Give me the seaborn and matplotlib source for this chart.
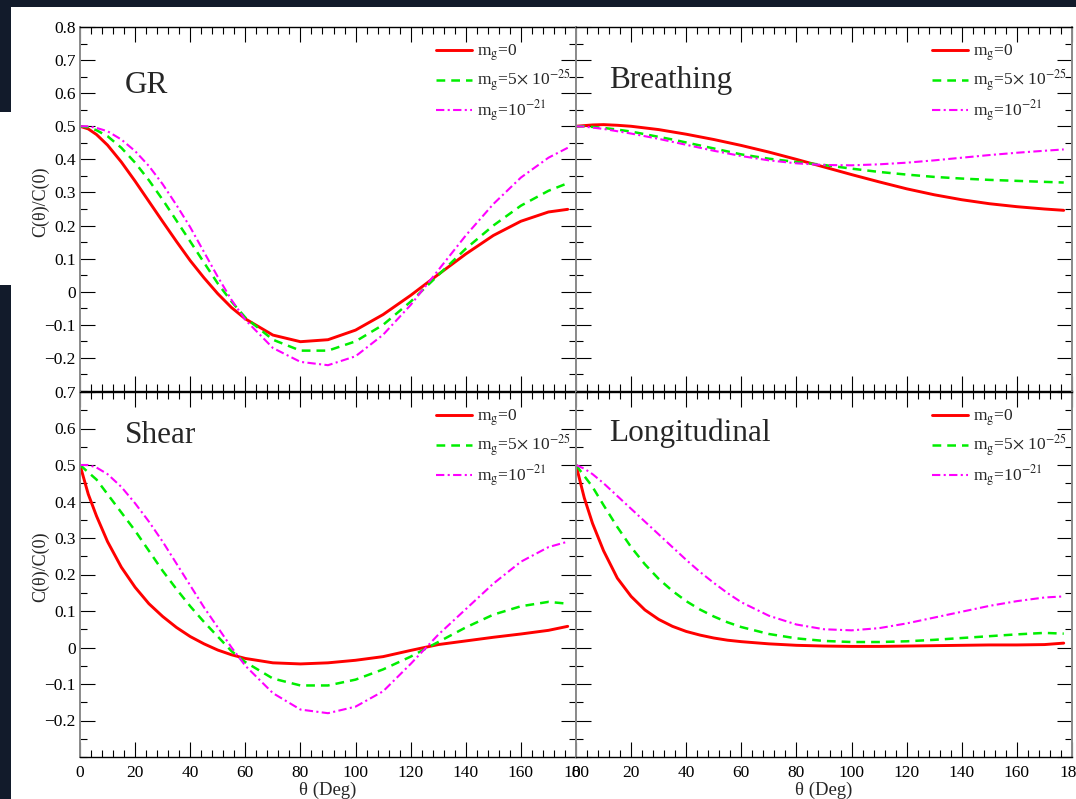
import numpy as np
import pandas as pd
import matplotlib
matplotlib.use("Agg")
import matplotlib.pyplot as plt
from matplotlib.patches import Rectangle
from matplotlib.ticker import MultipleLocator
import seaborn as sns

# ---- data: normalised overlap reduction functions C(theta)/C(0) ----
theta = [0, 3, 6, 10, 15, 20, 25, 30, 35, 40, 45, 50, 55, 60,
         70, 80, 90, 100, 110, 120, 130, 140, 150, 160, 170, 177]

mass_labels = [r"m$_{\rm g}$=0",
               r"m$_{\rm g}$=5$\times$ 10$^{-25}$",
               r"m$_{\rm g}$=10$^{-21}$"]

gr_m0 = [0.500, 0.492, 0.475, 0.443, 0.392, 0.334, 0.273, 0.212, 0.152, 0.094, 0.042, -0.006, -0.048, -0.082,
         -0.131, -0.151, -0.145, -0.116, -0.069, -0.011, 0.052, 0.114, 0.170, 0.213, 0.241, 0.249]
gr_m25 = [0.500, 0.497, 0.488, 0.470, 0.435, 0.390, 0.337, 0.278, 0.215, 0.152, 0.088, 0.025, -0.030, -0.078,
          -0.145, -0.178, -0.178, -0.150, -0.100, -0.030, 0.050, 0.130, 0.200, 0.260, 0.305, 0.328]
gr_m21 = [0.500, 0.500, 0.495, 0.485, 0.460, 0.425, 0.380, 0.325, 0.262, 0.195, 0.120, 0.045, -0.025, -0.085,
          -0.170, -0.212, -0.222, -0.195, -0.130, -0.040, 0.065, 0.170, 0.265, 0.345, 0.405, 0.435]

br_m0 = [0.500, 0.502, 0.504, 0.505, 0.503, 0.500, 0.495, 0.490, 0.483, 0.476, 0.468, 0.460, 0.451, 0.442,
         0.422, 0.400, 0.377, 0.354, 0.332, 0.311, 0.293, 0.278, 0.266, 0.257, 0.250, 0.246]
br_m25 = [0.500, 0.500, 0.498, 0.495, 0.490, 0.484, 0.476, 0.468, 0.460, 0.451, 0.442, 0.433, 0.424, 0.415,
          0.402, 0.392, 0.383, 0.372, 0.362, 0.354, 0.347, 0.342, 0.338, 0.335, 0.332, 0.330]
br_m21 = [0.500, 0.499, 0.496, 0.492, 0.485, 0.478, 0.470, 0.462, 0.453, 0.444, 0.435, 0.426, 0.418, 0.410,
          0.397, 0.388, 0.383, 0.382, 0.385, 0.390, 0.397, 0.405, 0.413, 0.420, 0.426, 0.430]

sh_m0 = [0.500, 0.420, 0.360, 0.290, 0.220, 0.165, 0.120, 0.085, 0.055, 0.030, 0.010, -0.007, -0.020, -0.030,
         -0.042, -0.045, -0.042, -0.035, -0.025, -0.008, 0.008, 0.018, 0.028, 0.037, 0.047, 0.058]
sh_m25 = [0.500, 0.480, 0.460, 0.420, 0.370, 0.320, 0.265, 0.210, 0.160, 0.113, 0.070, 0.030, -0.010, -0.040,
          -0.085, -0.104, -0.104, -0.088, -0.060, -0.025, 0.015, 0.055, 0.090, 0.113, 0.125, 0.120]
sh_m21 = [0.500, 0.500, 0.493, 0.475, 0.440, 0.395, 0.345, 0.290, 0.230, 0.170, 0.110, 0.055, 0.000, -0.050,
          -0.125, -0.170, -0.180, -0.162, -0.120, -0.045, 0.035, 0.105, 0.175, 0.235, 0.275, 0.290]

lo_m0 = [0.500, 0.410, 0.340, 0.265, 0.190, 0.140, 0.103, 0.077, 0.058, 0.044, 0.034, 0.026, 0.020, 0.016,
         0.010, 0.006, 0.004, 0.003, 0.003, 0.004, 0.005, 0.006, 0.007, 0.007, 0.008, 0.012]
lo_m25 = [0.500, 0.470, 0.440, 0.390, 0.330, 0.275, 0.228, 0.188, 0.155, 0.127, 0.104, 0.085, 0.069, 0.056,
          0.037, 0.025, 0.018, 0.015, 0.015, 0.017, 0.021, 0.026, 0.031, 0.036, 0.040, 0.038]
lo_m21 = [0.500, 0.490, 0.475, 0.450, 0.415, 0.380, 0.345, 0.310, 0.275, 0.240, 0.207, 0.177, 0.149, 0.124,
          0.087, 0.063, 0.050, 0.047, 0.053, 0.066, 0.082, 0.098, 0.114, 0.127, 0.137, 0.140]

panel_names = ["GR", "Breathing", "Shear", "Longitudinal"]
panel_series = [(gr_m0, gr_m25, gr_m21), (br_m0, br_m25, br_m21),
                (sh_m0, sh_m25, sh_m21), (lo_m0, lo_m25, lo_m21)]

# ---- styling ----
sns.set_theme(style="white")
plt.rcParams["font.family"] = ["Liberation Serif", "DejaVu Serif"]
plt.rcParams["mathtext.fontset"] = "stix"
plt.rcParams["axes.unicode_minus"] = True

colors = ["#ff0000", "#00ee00", "#ff00ff"]
widths = [2.1, 1.8, 1.5]
dashes = [None, (3.5, 2.4), (4.0, 1.6, 1.0, 1.6)]

W, H = 1076, 799
fig = plt.figure(figsize=(W / 100, H / 100), dpi=100, facecolor="white")

# dark backdrop showing around the white sheet
dark = "#121b2b"
for (x0, y0, w, h) in [(0, 0, W, 7), (0, 0, 11, 112), (0, 285, 11, H - 285)]:
    fig.patches.append(Rectangle((x0 / W, 1 - (y0 + h) / H), w / W, h / H,
                                 transform=fig.transFigure, facecolor=dark,
                                 edgecolor="none", zorder=-10))

left_px, mid_px, right_px = 80, 576, 1072
rows = [(27, 391, -0.3, 0.8), (392, 757, -0.3, 0.7)]

title_pos = [(0.091, 0.820), (0.067, 0.832), (0.091, 0.860), (0.067, 0.866)]

axes = []
for r, (top, bot, ylo, yhi) in enumerate(rows):
    for c in range(2):
        x0 = left_px if c == 0 else mid_px
        x1 = mid_px if c == 0 else right_px
        ax = fig.add_axes([x0 / W, 1 - bot / H, (x1 - x0) / W, (bot - top) / H])
        idx = r * 2 + c
        series = panel_series[idx]
        for k in range(3):
            sns.lineplot(x=theta, y=series[k], ax=ax, color=colors[k],
                         linewidth=widths[k], label=mass_labels[k],
                         errorbar=None, sort=False)
            ln = ax.get_lines()[-1]
            if dashes[k] is not None:
                ln.set_dashes(dashes[k])
        ax.set_xlim(0, 180)
        ax.set_ylim(ylo, yhi)
        ax.xaxis.set_major_locator(MultipleLocator(20))
        ax.xaxis.set_minor_locator(MultipleLocator(4))
        ax.yaxis.set_major_locator(MultipleLocator(0.1))
        ax.yaxis.set_minor_locator(MultipleLocator(0.05))
        ax.tick_params(which="both", direction="in", top=True, right=True,
                       bottom=True, left=True, colors="black",
                       labelsize=12.5)
        ax.tick_params(axis="y", pad=3)
        ax.tick_params(axis="x", pad=6)
        ax.tick_params(which="major", length=11, width=0.8)
        ax.tick_params(which="minor", length=5, width=0.8)
        ax.set_facecolor("white")
        for s in ("left", "right"):
            ax.spines[s].set_color("#8a8a8a")
            ax.spines[s].set_linewidth(1.4)
        for s in ("top", "bottom"):
            ax.spines[s].set_color("black")
            ax.spines[s].set_linewidth(1.0)
        if c == 0:
            yt = [v for v in np.round(np.arange(-0.2, yhi + 0.001, 0.1), 1)]
            ax.set_yticks(yt)
            ax.set_yticklabels(["0" if abs(v) < 1e-9 else f"{v:g}".replace("-", "\u2212") for v in yt])
            ax.set_ylabel("C(\u03b8)/C(0)", fontsize=13)
            ax.yaxis.set_label_coords(-0.062, 0.52)
        else:
            ax.tick_params(labelleft=False)
            ax.set_ylabel("")
        if r == 0:
            ax.tick_params(labelbottom=False)
            ax.set_xlabel("")
        else:
            ax.set_xticks(np.arange(0, 181, 20))
            ax.set_xlabel("\u03b8 (Deg)", fontsize=13.5, labelpad=0)
        tx, ty = title_pos[idx]
        ax.text(tx, ty, panel_names[idx], transform=ax.transAxes,
                fontsize=22.5, va="baseline", ha="left")
        leg = ax.legend(loc="upper right", bbox_to_anchor=(1.01, 1.0 - 5 / 364),
                        frameon=False, fontsize=12.5, handlelength=2.1,
                        handletextpad=0.25, labelspacing=0.28,
                        borderaxespad=0.2)
        for h, d in zip(leg.get_lines(), dashes):
            if d is not None:
                h.set_dashes(d)
        axes.append(ax)

fig.savefig("out.png", dpi=100, facecolor=fig.get_facecolor())
